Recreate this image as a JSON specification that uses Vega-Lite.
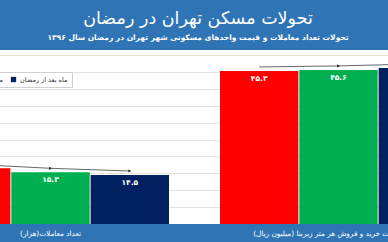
{
  "$schema": "https://vega.github.io/schema/vega-lite/v6.json",
  "width": 388,
  "height": 174,
  "autosize": {"type": "none"},
  "padding": {"top": 50, "bottom": 18, "left": 0, "right": 0},
  "background": "#2f75b6",
  "config": {
    "view": {"fill": "white", "stroke": null},
    "font": "DejaVu Sans"
  },
  "title": {
    "text": "تحولات مسکن تهران در رمضان",
    "subtitle": "تحولات تعداد معاملات و قیمت واحدهای مسکونی شهر تهران در رمضان سال ۱۳۹۶",
    "color": "white",
    "subtitleColor": "white",
    "fontSize": 17.5,
    "fontWeight": "normal",
    "subtitleFontSize": 7.5,
    "subtitleFontWeight": "bold",
    "subtitlePadding": 6,
    "anchor": "middle",
    "offset": 9,
    "dx": 4
  },
  "data": {
    "values": [
      {"group": "تعداد معاملات(هزار)", "series": "ماه قبل از رمضان", "value": 16.5, "label": "۱۶.۵"},
      {"group": "تعداد معاملات(هزار)", "series": "ماه رمضان", "value": 15.3, "label": "۱۵.۳"},
      {"group": "تعداد معاملات(هزار)", "series": "ماه بعد از رمضان", "value": 14.5, "label": "۱۴.۵"},
      {"group": "میانگین قیمت خرید و فروش هر متر زیربنا (میلیون ریال)", "series": "ماه قبل از رمضان", "value": 45.3, "label": "۴۵.۳"},
      {"group": "میانگین قیمت خرید و فروش هر متر زیربنا (میلیون ریال)", "series": "ماه رمضان", "value": 45.6, "label": "۴۵.۶"},
      {"group": "میانگین قیمت خرید و فروش هر متر زیربنا (میلیون ریال)", "series": "ماه بعد از رمضان", "value": 46.2, "label": "۴۶.۲"}
    ]
  },
  "encoding": {
    "x": {
      "field": "group",
      "type": "nominal",
      "sort": null,
      "scale": {"range": [-68, 457], "paddingInner": 0.177, "paddingOuter": 0},
      "axis": {
        "title": null,
        "domain": false,
        "ticks": false,
        "labelAngle": 0,
        "labelColor": "white",
        "labelFontSize": 7.3,
        "labelPadding": 5,
        "labelLimit": 0,
        "labelOverlap": false,
        "labelBound": false
      }
    },
    "xOffset": {
      "field": "series",
      "type": "nominal",
      "sort": ["ماه قبل از رمضان", "ماه رمضان", "ماه بعد از رمضان"],
      "scale": {"paddingInner": 0.012, "paddingOuter": 0}
    },
    "y": {
      "field": "value",
      "type": "quantitative",
      "scale": {"domain": [0, 51.5], "nice": false},
      "axis": {
        "title": null,
        "labels": false,
        "ticks": false,
        "domain": false,
        "values": [5, 10, 15, 20, 25, 30, 35, 40, 45, 50],
        "gridColor": "#d9d9d9",
        "gridWidth": 0.8
      }
    }
  },
  "layer": [
    {
      "mark": {"type": "bar"},
      "encoding": {
        "color": {
          "field": "series",
          "type": "nominal",
          "scale": {
            "domain": ["ماه قبل از رمضان", "ماه رمضان", "ماه بعد از رمضان"],
            "range": ["#ff0000", "#00b050", "#002060"]
          },
          "legend": {
            "title": null,
            "orient": "none",
            "direction": "horizontal",
            "legendX": -108,
            "legendY": 22,
            "symbolType": "square",
            "symbolSize": 28,
            "labelFontSize": 6.5,
            "labelColor": "#333333",
            "fillColor": "white",
            "strokeColor": "#d0d0d0",
            "padding": 4,
            "columnPadding": 7,
            "labelOffset": 3
          }
        }
      }
    },
    {
      "mark": {"type": "line", "color": "#404040", "strokeWidth": 0.8, "yOffset": -4},
      "encoding": {"detail": {"field": "group"}}
    },
    {
      "transform": [{"filter": "datum.series !== 'ماه قبل از رمضان'"}],
      "mark": {"type": "point", "shape": "triangle-right", "filled": true, "color": "#202020", "size": 10, "yOffset": -4, "xOffset": -5, "opacity": 1}
    },
    {
      "mark": {"type": "text", "color": "white", "fontSize": 7.5, "fontWeight": "bold", "dy": 8, "baseline": "middle"},
      "encoding": {"text": {"field": "label"}}
    }
  ]
}
